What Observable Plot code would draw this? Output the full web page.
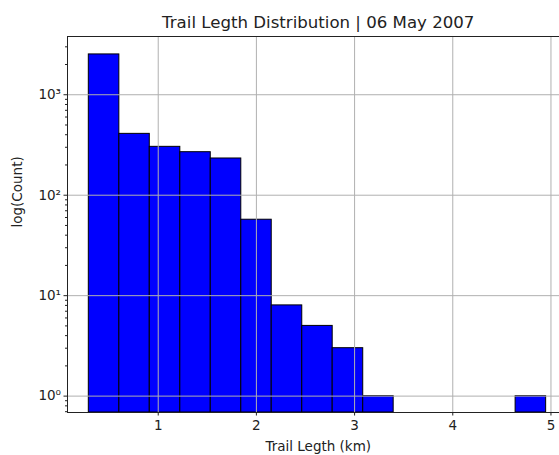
<!DOCTYPE html>
<html><head><meta charset="utf-8">
<script src="https://cdn.jsdelivr.net/npm/d3@7"></script>
<script src="https://cdn.jsdelivr.net/npm/@observablehq/plot@0.6"></script>
<style>body{margin:0;background:#fff;} svg{display:block}</style>
</head><body><div id="chart"></div>
<script>
const binEdges = [0.293,0.604,0.914,1.225,1.535,1.846,2.156,2.467,2.777,3.088,3.398,3.709,4.019,4.330,4.640,4.951];
const counts = [2520,408,303,268,232,57,8,5,3,1,0,0,0,0,1];
const xTicks = [1,2,3,4,5];
const yTicks = [1,10,100,1000];
const yTickLabels = ["10⁰","10¹","10²","10³"];
const yMinorTicks = [0.7,0.8,0.9,2,3,4,5,6,7,8,9,20,30,40,50,60,70,80,90,200,300,400,500,600,700,800,900,2000,3000];
const title = "Trail Legth Distribution | 06 May 2007";
const xLabel = "Trail Legth (km)";
const yLabel = "log(Count)";

const bins = counts.map((c,i)=>({x1: binEdges[i], x2: binEdges[i+1], count: c})).filter(d=>d.count>0);
const yMin = 0.687, yMax = 3800;
const xDomain = [0.076, 5.087];
const xCenter = (0.076 + 5.184) / 2;

const chart = Plot.plot({
  width: 559, height: 455,
  marginLeft: 67, marginRight: 0, marginTop: 36, marginBottom: 43,
  style: {fontFamily: "DejaVu Sans", fontSize: "13.5px", color: "#222", background: "white"},
  x: {domain: xDomain},
  y: {type: "log", domain: [yMin, yMax]},
  marks: [
    Plot.rect(bins, {x1: "x1", x2: "x2", y1: () => yMin, y2: "count", fill: "#0000ff", stroke: "black", strokeWidth: 1}),
    Plot.ruleX(xTicks, {stroke: "#b0b0b0", strokeWidth: 1}),
    Plot.ruleY(yTicks, {stroke: "#b0b0b0", strokeWidth: 1}),
    Plot.ruleX([xDomain[0]], {stroke: "#222", strokeWidth: 1}),
    Plot.ruleY([yMin], {stroke: "#222", strokeWidth: 1}),
    Plot.ruleY([yMax], {stroke: "#222", strokeWidth: 1}),
    Plot.axisX(xTicks, {tickSize: 3.5, tickPadding: 4, label: null, fontSize: 13.5}),
    Plot.axisY(yTicks, {tickSize: 3.5, tickPadding: 3, label: null, fontSize: 13.5, tickFormat: (d) => yTickLabels[yTicks.indexOf(d)]}),
    Plot.axisY(yMinorTicks, {tickSize: 2, label: null, tickFormat: () => ""}),
    Plot.text([title], {x: () => xCenter, frameAnchor: "top", lineAnchor: "middle", dy: -14, fontSize: 16.6, fill: "#222"}),
    Plot.text([xLabel], {x: () => xCenter, frameAnchor: "bottom", lineAnchor: "middle", dy: 34, fontSize: 13.5, fill: "#222"}),
    Plot.text([yLabel], {frameAnchor: "left", dx: -50, dy: 3, rotate: -90, fontSize: 13.5, fill: "#222"})
  ]
});
document.getElementById("chart").appendChild(chart);
</script>
</body></html>
